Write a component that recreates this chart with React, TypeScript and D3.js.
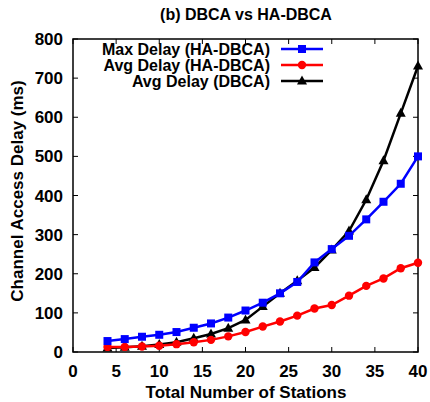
import React from "react";
import * as d3 from "d3";

const stations = [4, 6, 8, 10, 12, 14, 16, 18, 20, 22, 24, 26, 28, 30, 32, 34, 36, 38, 40];
const maxDelayHA = [28, 33, 39, 44, 51, 62, 73, 88, 106, 126, 150, 179, 229, 263, 297, 339, 384, 430, 500];
const avgDelayHA = [13, 13, 14, 16, 20, 25, 31, 40, 51, 65, 78, 93, 111, 120, 144, 169, 188, 214, 228];
const avgDelayDBCA = [10, 12, 15, 19, 25, 35, 46, 61, 82, 116, 150, 182, 216, 261, 309, 389, 489, 610, 731];
const xTicks = [0, 5, 10, 15, 20, 25, 30, 35, 40];
const yTicks = [0, 100, 200, 300, 400, 500, 600, 700, 800];

const W = 430;
const H = 402;
const M = { left: 73, right: 418, top: 39, bottom: 352 };
const FONT = "'Liberation Sans', Arial, sans-serif";

type Series = { name: string; values: number[]; color: string; marker: "square" | "circle" | "triangle" };
const series: Series[] = [
  { name: "Max Delay (HA-DBCA)", values: maxDelayHA, color: "#0000ff", marker: "square" },
  { name: "Avg Delay (HA-DBCA)", values: avgDelayHA, color: "#ff0000", marker: "circle" },
  { name: "Avg Delay (DBCA)", values: avgDelayDBCA, color: "#000000", marker: "triangle" },
];

function Marker({ kind, x, y, color }: { kind: string; x: number; y: number; color: string }) {
  if (kind === "square") return <rect x={x - 4} y={y - 4} width={8} height={8} fill={color} />;
  if (kind === "circle") return <circle cx={x} cy={y} r={4.2} fill={color} />;
  return <path d={`M${x},${y - 5.5}L${x + 5},${y + 3.5}L${x - 5},${y + 3.5}Z`} fill={color} />;
}

export default function App() {
  const x = d3.scaleLinear().domain([0, 40]).range([M.left, M.right]);
  const y = d3.scaleLinear().domain([0, 800]).range([M.bottom, M.top]);
  const line = d3
    .line<[number, number]>()
    .x((d) => x(d[0]))
    .y((d) => y(d[1]));
  const tl = 5;
  const legendRows = [49, 65, 81];

  return (
    <svg width={W} height={H} style={{ position: "absolute", left: 0, top: 0, background: "#fff" }}>
      <text x={246} y={20} textAnchor="middle" fontFamily={FONT} fontWeight="bold" fontSize={16}>
        (b) DBCA vs HA-DBCA
      </text>
      {/* ticks on all four sides */}
      {xTicks.map((t) => (
        <g key={"x" + t}>
          <line x1={x(t)} x2={x(t)} y1={M.bottom} y2={M.bottom - tl} stroke="#000" />
          <line x1={x(t)} x2={x(t)} y1={M.top} y2={M.top + tl} stroke="#000" />
          <text x={x(t)} y={377} textAnchor="middle" fontFamily={FONT} fontWeight="bold" fontSize={17}>
            {t}
          </text>
        </g>
      ))}
      {yTicks.map((t) => (
        <g key={"y" + t}>
          <line x1={M.left} x2={M.left + tl} y1={y(t)} y2={y(t)} stroke="#000" />
          <line x1={M.right} x2={M.right - tl} y1={y(t)} y2={y(t)} stroke="#000" />
          <text x={63} y={y(t) + 6} textAnchor="end" fontFamily={FONT} fontWeight="bold" fontSize={17}>
            {t}
          </text>
        </g>
      ))}
      <rect
        x={M.left}
        y={M.top}
        width={M.right - M.left}
        height={M.bottom - M.top}
        fill="none"
        stroke="#000"
        strokeWidth={1.5}
      />
      <text x={246} y={398} textAnchor="middle" fontFamily={FONT} fontWeight="bold" fontSize={17}>
        Total Number of Stations
      </text>
      <text
        transform={`translate(23,191) rotate(-90)`}
        textAnchor="middle"
        fontFamily={FONT}
        fontWeight="bold"
        fontSize={17}
      >
        Channel Access Delay (ms)
      </text>
      {/* data series */}
      {[2, 1, 0].map((i) => {
        const s = series[i];
        const pts = stations.map((st, k) => [st, s.values[k]] as [number, number]);
        return (
          <g key={s.name}>
            <path d={line(pts) || ""} fill="none" stroke={s.color} strokeWidth={2.5} />
            {pts.map((p, k) => (
              <Marker key={k} kind={s.marker} x={x(p[0])} y={y(p[1])} color={s.color} />
            ))}
          </g>
        );
      })}
      {/* legend */}
      {series.map((s, i) => (
        <g key={"lg" + i}>
          <text x={270} y={legendRows[i] + 6} textAnchor="end" fontFamily={FONT} fontWeight="bold" fontSize={16}>
            {s.name}
          </text>
          <line x1={281} x2={323} y1={legendRows[i]} y2={legendRows[i]} stroke={s.color} strokeWidth={2.5} />
          <Marker kind={s.marker} x={302} y={legendRows[i]} color={s.color} />
        </g>
      ))}
    </svg>
  );
}
